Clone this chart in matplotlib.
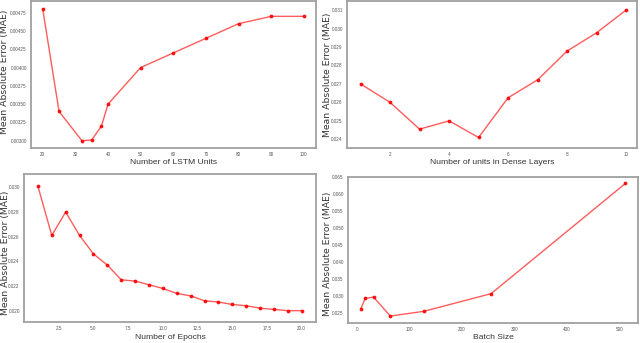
# Erreur MAE selon les hyperparametres

import numpy as np
from matplotlib import pyplot as plt
from matplotlib.ticker import MultipleLocator, FormatStrFormatter

lstm_units = [20, 25, 32, 35, 38, 40, 50, 60, 70, 80, 90, 100]
lstm_mae = [0.00480, 0.00340, 0.00300, 0.00301, 0.00320, 0.00350,
            0.00400, 0.00420, 0.00440, 0.00460, 0.00470, 0.00470]

dense_units = [1, 2, 3, 4, 5, 6, 7, 8, 9, 10]
dense_mae = [0.0270, 0.0260, 0.02455, 0.0250, 0.0241, 0.02625,
             0.02722, 0.02878, 0.02977, 0.0310]

epochs = list(range(1, 21))
epochs_mae = [0.0301, 0.0261, 0.0280, 0.0261, 0.0246, 0.0237, 0.0225, 0.0224,
              0.0221, 0.0218, 0.0214, 0.0212, 0.0208, 0.0207, 0.0205, 0.0204,
              0.0202, 0.0201, 0.0200, 0.0200]

batch_size = [8, 16, 32, 64, 128, 256, 512]
batch_mae = [0.0263, 0.0293, 0.0297, 0.0241, 0.0255, 0.0307, 0.0632]

fig = plt.figure(figsize=(6.4, 3.43), dpi=100)

narrow = ['Liberation Sans', 'DejaVu Sans']

# rect, x, y, xlabel, pas y, format y, ticks x, format x, ylim, xlim, position ylabel (x, y), xlabel
panels = [
    ([0.0484, 0.5685, 0.4453, 0.4286], lstm_units, lstm_mae, "Number of LSTM Units",
     0.00025, "%.5f", np.arange(20, 101, 10), "%d", (0.00290, 0.00491), (16.4, 103.7),
     (-0.092, 0.52), -0.102),
    ([0.5422, 0.5685, 0.4531, 0.4286], dense_units, dense_mae, "Number of units in Dense Layers",
     0.001, "%.3f", np.arange(2, 11, 2), "%d", (0.02353, 0.03149), (0.54, 10.37),
     (-0.067, 0.50), -0.102),
    ([0.0375, 0.0612, 0.4563, 0.4315], epochs, epochs_mae, "Number of Epochs",
     0.002, "%.3f", np.arange(2.5, 20.1, 2.5), "%.1f", (0.01908, 0.03108), (0.0, 21.03),
     (-0.065, 0.47), -0.106),
    ([0.5438, 0.0583, 0.4531, 0.4257], batch_size, batch_mae, "Batch Size",
     0.005, "%.3f", np.arange(0, 501, 100), "%d", (0.02205, 0.0651), (-16.6, 536),
     (-0.072, 0.473), -0.101),
]

for rect, x, y, xlab, ystep, yfmt, xticks, xfmt, ylim, xlim, ylpos, xly in panels:
    ax = fig.add_axes(rect)
    ax.plot(x, y, color='#ff4040', lw=1.0, alpha=0.85, marker='.', ms=3.5,
            mfc='red', mec='red')
    ax.set_xlim(*xlim)
    ax.set_ylim(*ylim)
    ax.yaxis.set_major_locator(MultipleLocator(ystep))
    ax.yaxis.set_major_formatter(FormatStrFormatter(yfmt))
    ax.set_xticks(xticks)
    ax.xaxis.set_major_formatter(FormatStrFormatter(xfmt))
    ax.tick_params(length=0, labelsize=3.3, labelcolor='#555555', pad=3)
    for t in ax.get_xticklabels() + ax.get_yticklabels():
        t.set_family(narrow)
    ax.set_xlabel(xlab, fontsize=6.1, family=narrow, color='#333333', va='center')
    ax.set_ylabel("Mean Absolute Error (MAE)", fontsize=6.7, color='#333333', va='center')
    ax.yaxis.set_label_coords(*ylpos)
    ax.xaxis.set_label_coords(0.5, xly)
    for s in ax.spines.values():
        s.set_color('#a0a0a0')
        s.set_linewidth(1.3)

plt.savefig("out.png", dpi=100)
